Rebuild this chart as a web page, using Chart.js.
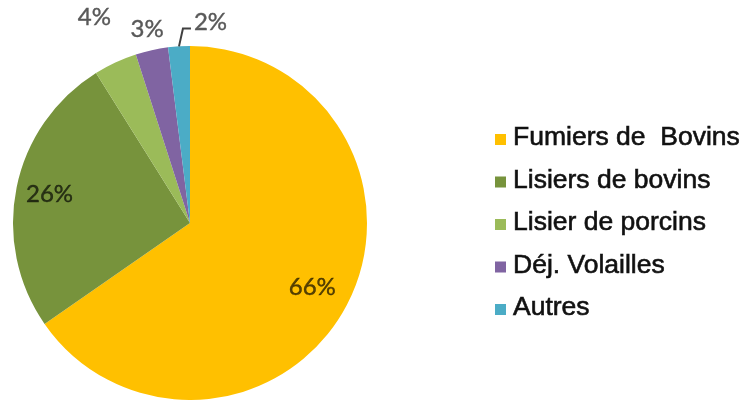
<!DOCTYPE html>
<html>
<head>
<meta charset="utf-8">
<script src="https://cdn.jsdelivr.net/npm/chart.js@4"></script>
<style>
  html, body { margin: 0; padding: 0; background: #fff; }
  .wrap { width: 742px; height: 400px; position: relative; }
</style>
</head>
<body>
<div class="wrap"><canvas id="effluentsChart"></canvas></div>
<script>
// types d'effluents d'élevage (%)
const categories = ['Fumiers de  Bovins', 'Lisiers de bovins', 'Lisier de porcins', 'Déj. Volailles', 'Autres'];
const shares = [66, 26, 4, 3, 2];
const colors = ['#FFC000', '#77933C', '#9BBB59', '#8064A2', '#4BACC6'];

// label placement, as a fraction of the radius
const labelDist = [0.78, 0.81, 1.28, 1.12, 1.15];
const labelInside = [true, true, false, false, false];

const pctFont = '24px Lato, "Open Sans", sans-serif';

// percent labels + leader line for the small slice
const sliceLabels = {
    id: 'sliceLabels',
    afterDatasetsDraw(chart) {
        const c = chart.ctx;
        const meta = chart.getDatasetMeta(0);
        c.save();
        c.font = pctFont;
        c.lineWidth = 0.4;
        meta.data.forEach((arc, i) => {
            const p = arc.getProps(['x', 'y', 'startAngle', 'endAngle', 'outerRadius'], true);
            const mid = (p.startAngle + p.endAngle) / 2;
            const r = p.outerRadius;
            const txt = shares[i] + '%';
            if (i === shares.length - 1) {
                // leader line
                const x0 = p.x + Math.cos(mid) * r;
                const y0 = p.y + Math.sin(mid) * r;
                const a1 = mid + 0.026;
                const x1 = p.x + Math.cos(a1) * r * 1.1;
                const y1 = p.y + Math.sin(a1) * r * 1.1;
                c.strokeStyle = '#404040';
                c.lineWidth = 2;
                c.beginPath();
                c.moveTo(x0, y0);
                c.lineTo(x1, y1);
                c.lineTo(x1 + 8, y1);
                c.stroke();
                c.fillStyle = '#595959';
                c.strokeStyle = '#595959';
                c.lineWidth = 0.4;
                c.textAlign = 'left';
                c.textBaseline = 'alphabetic';
                c.fillText(txt, x1 + 11, y1 + 2);
                c.strokeText(txt, x1 + 11, y1 + 2);
                return;
            }
            const x = p.x + Math.cos(mid) * r * labelDist[i];
            const y = p.y + Math.sin(mid) * r * labelDist[i];
            c.fillStyle = labelInside[i] ? 'rgba(0,0,0,0.65)' : '#595959';
            c.strokeStyle = c.fillStyle;
            c.textAlign = 'center';
            c.textBaseline = 'middle';
            c.fillText(txt, x, y);
            c.strokeText(txt, x, y);
        });
        c.restore();
    }
};

// legend on the right
const sideLegend = {
    id: 'sideLegend',
    afterDraw(chart) {
        const c = chart.ctx;
        c.save();
        c.font = '26.5px "Liberation Sans", Arial, sans-serif';
        c.textAlign = 'left';
        c.textBaseline = 'middle';
        c.lineWidth = 0.6;
        categories.forEach((name, i) => {
            const y = 138 + i * 42.5;
            c.fillStyle = colors[i];
            c.fillRect(495, y - 4, 11, 11);
            c.fillStyle = '#111';
            c.strokeStyle = '#111';
            c.fillText(name, 513, y);
            c.strokeText(name, 513, y);
        });
        c.restore();
    }
};

new Chart(document.getElementById('effluentsChart'), {
    type: 'pie',
    data: {
        labels: categories,
        datasets: [{
            data: shares,
            backgroundColor: colors,
            borderWidth: 0
        }]
    },
    options: {
        responsive: true,
        maintainAspectRatio: false,
        animation: false,
        layout: { padding: { left: 13, right: 375, top: 46, bottom: 0 } },
        plugins: {
            legend: { display: false },
            tooltip: { enabled: false }
        }
    },
    plugins: [sliceLabels, sideLegend]
});
</script>
</body>
</html>
